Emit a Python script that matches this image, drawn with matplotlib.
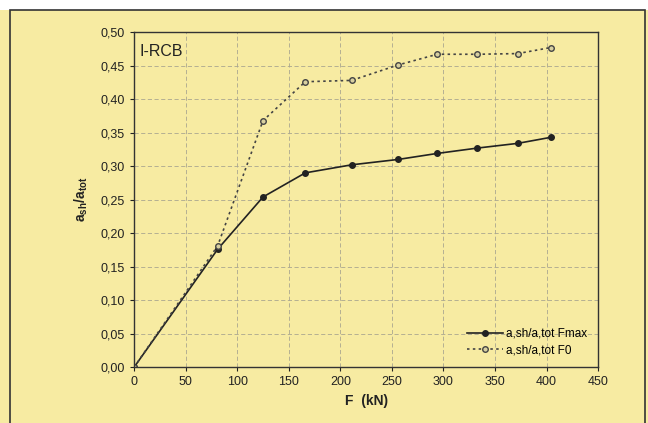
import matplotlib.pyplot as plt
from matplotlib.ticker import FuncFormatter
from matplotlib.patches import Rectangle

# values
force = [0, 81, 125, 166, 211, 256, 294, 333, 372, 404]
ratio_fmax = [0.0, 0.176, 0.254, 0.290, 0.302, 0.310, 0.319, 0.327, 0.334, 0.343]
ratio_f0 = [0.0, 0.181, 0.368, 0.426, 0.428, 0.451, 0.467, 0.467, 0.468, 0.477]

plt.rcParams['font.family'] = ['Liberation Sans', 'DejaVu Sans']
plt.rcParams['mathtext.fontset'] = 'custom'
plt.rcParams['mathtext.rm'] = 'Liberation Sans:bold'
plt.rcParams['mathtext.it'] = 'Liberation Sans:bold'
plt.rcParams['mathtext.bf'] = 'Liberation Sans:bold'

bg = '#f7eba2'

fig = plt.figure(figsize=(6.48, 4.23), dpi=100)
fig.patch.set_facecolor(bg)
# white strip on top and the outer frame
fig.patches.append(Rectangle((0, 0.976), 1, 0.024, transform=fig.transFigure,
                             facecolor='white', edgecolor='none', zorder=0))
fig.patches.append(Rectangle((0.015, -0.01), 0.98, 0.986, transform=fig.transFigure,
                             facecolor='none', edgecolor='#333333', linewidth=1.2, zorder=1))

ax = fig.add_axes([0.207, 0.132, 0.716, 0.792])
ax.set_facecolor(bg)

ax.plot(force, ratio_fmax, color='#222222', linewidth=1.2, marker='o', markersize=4,
        markerfacecolor='#222222', label='a,sh/a,tot Fmax')
ax.plot(force, ratio_f0, color='#444444', linewidth=1.2, linestyle=(0, (1.5, 2)), marker='o',
        markersize=4, markerfacecolor='#d8d0a0', markeredgecolor='#444444', label='a,sh/a,tot F0')

ax.set_xlim(0, 450)
ax.set_ylim(0, 0.5)
ax.set_xticks(range(0, 451, 50))
ax.set_yticks([i * 0.05 for i in range(11)])
ax.yaxis.set_major_formatter(FuncFormatter(lambda v, p: f'{v:.2f}'.replace('.', ',')))
ax.grid(True, color='#aaa690', linestyle=(0, (5, 3)), linewidth=0.6)
ax.tick_params(labelsize=9, length=3, direction='out', colors='#222222')
for s in ax.spines.values():
    s.set_color('#333333')
    s.set_linewidth(1.0)

ax.set_xlabel('F  (kN)', fontsize=10, fontweight='bold', color='#222222')
ax.set_ylabel(r'$a_{sh}/a_{tot}$', fontsize=10, color='#222222', labelpad=8)
ax.text(0.012, 0.965, 'I-RCB', transform=ax.transAxes, fontsize=11.5, va='top', color='#222222')

leg = ax.legend(loc='lower right', fontsize=8.5, frameon=False, handlelength=3,
                borderaxespad=0.5, labelspacing=0.4, handletextpad=0.3)

fig.savefig('out.png', dpi=100, facecolor=fig.get_facecolor())
